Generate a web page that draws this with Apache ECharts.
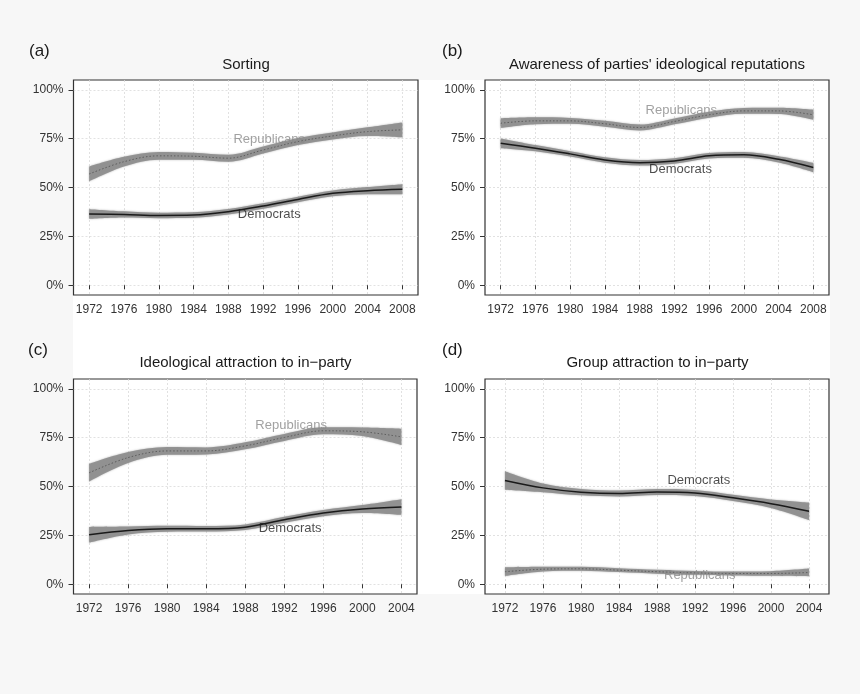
<!DOCTYPE html>
<html lang="en">
<head>
  <meta charset="UTF-8">
  <title>Party sorting and attraction</title>
  <script src="https://cdn.jsdelivr.net/npm/echarts@6/dist/echarts.min.js"></script>
  <style>
    body {
      margin: 0;
      padding: 0;
      background-color: #f7f7f7;
    }
    #chart {
      width: 860px;
      height: 694px;
    }
  </style>
</head>
<body>
  <div id="chart"></div>

  <script>
    // years on the x axis
    var yearsAB = [1972, 1976, 1980, 1984, 1988, 1992, 1996, 2000, 2004, 2008];
    var yearsCD = [1972, 1976, 1980, 1984, 1988, 1992, 1996, 2000, 2004];
    var yTicks = [0, 25, 50, 75, 100];

    // (a) Sorting: smoothed share (%) and half width of the band
    var aRepMid = [56.9, 63.2, 66.2, 66.0, 65.0, 69.2, 73.5, 76.4, 78.6, 79.5];
    var aRepSe  = [3.8, 2.5, 2.0, 1.8, 1.8, 1.8, 1.8, 1.8, 2.2, 3.8];
    var aDemMid = [36.4, 36.2, 35.7, 35.9, 37.6, 40.5, 43.9, 47.0, 48.4, 49.1];
    var aDemSe  = [2.5, 1.6, 1.4, 1.4, 1.4, 1.4, 1.4, 1.5, 1.8, 2.6];

    // (b) Awareness of parties' ideological reputations
    var bRepMid = [82.9, 84.1, 84.1, 82.6, 80.7, 83.8, 87.2, 89.2, 89.2, 87.2];
    var bRepSe  = [2.5, 1.8, 1.5, 1.5, 1.5, 1.5, 1.5, 1.5, 1.6, 2.6];
    var bDemMid = [72.6, 70.1, 67.2, 64.1, 62.7, 63.6, 66.2, 66.7, 64.4, 60.2];
    var bDemSe  = [2.5, 1.6, 1.4, 1.4, 1.4, 1.4, 1.4, 1.5, 1.6, 2.4];

    // (c) Ideological attraction to in-party
    var cRepMid = [57.0, 64.8, 68.2, 68.2, 70.8, 75.1, 78.5, 78.0, 75.4];
    var cRepSe  = [4.5, 2.8, 2.0, 1.8, 1.8, 1.8, 1.8, 2.2, 4.2];
    var cDemMid = [25.3, 27.5, 28.4, 28.4, 29.2, 33.0, 36.4, 38.5, 39.5];
    var cDemSe  = [4.0, 2.0, 1.5, 1.4, 1.4, 1.5, 1.6, 2.0, 4.0];

    // (d) Group attraction to in-party
    var dDemMid = [53.1, 49.3, 47.1, 46.4, 47.2, 46.7, 44.2, 41.2, 37.3];
    var dDemSe  = [4.7, 2.2, 1.6, 1.5, 1.5, 1.5, 1.6, 2.2, 4.5];
    var dRepMid = [6.4, 7.7, 7.9, 7.2, 6.4, 5.8, 5.5, 5.5, 6.0];
    var dRepSe  = [2.2, 1.2, 1.0, 1.0, 1.0, 1.0, 1.0, 1.2, 2.0];

    // where the party names sit, in data units [year, %]
    var aRepLabel = [1992.7, 74.4];
    var aDemLabel = [1992.7, 36.4];
    var bRepLabel = [1992.8, 89.4];
    var bDemLabel = [1992.7, 59.3];
    var cRepLabel = [1992.7, 81.1];
    var cDemLabel = [1992.6, 28.7];
    var dDemLabel = [1992.4, 53.1];
    var dRepLabel = [1992.5, 4.3];

    var FONT = '"Liberation Sans", Arial, Helvetica, sans-serif';
    var BAND = '#8e8e8e';
    var REP_TEXT = '#8a8a8a';
    var DEM_TEXT = '#1f1f1f';

    var panels = [
      { years: yearsAB, min: 1970.2, max: 2009.8,
        rep: aRepMid, repSe: aRepSe, dem: aDemMid, demSe: aDemSe,
        repLabel: aRepLabel, demLabel: aDemLabel },
      { years: yearsAB, min: 1970.2, max: 2009.8,
        rep: bRepMid, repSe: bRepSe, dem: bDemMid, demSe: bDemSe,
        repLabel: bRepLabel, demLabel: bDemLabel },
      { years: yearsCD, min: 1970.4, max: 2005.6,
        rep: cRepMid, repSe: cRepSe, dem: cDemMid, demSe: cDemSe,
        repLabel: cRepLabel, demLabel: cDemLabel },
      { years: yearsCD, min: 1969.9, max: 2006.1,
        rep: dRepMid, repSe: dRepSe, dem: dDemMid, demSe: dDemSe,
        repLabel: dRepLabel, demLabel: dDemLabel }
    ];

    var grids = [
      { left: 73.5, top: 80, width: 344.5, height: 215 },
      { left: 485, top: 80, width: 344, height: 215 },
      { left: 73.5, top: 379, width: 343.5, height: 215 },
      { left: 485, top: 379, width: 344, height: 215 }
    ];

    function pairs(xs, ys) {
      return xs.map(function (x, i) { return [x, ys[i]]; });
    }

    // value first, year second, so the stack goes on the y dimension
    function flipped(xs, ys) {
      return xs.map(function (x, i) { return [ys[i], x]; });
    }

    // band = invisible lower line + stacked width with area fill
    function bandSeries(idx, name, years, mid, se) {
      var lo = mid.map(function (v, i) { return v - se[i]; });
      var width = se.map(function (v) { return 2 * v; });
      var stackId = name + idx;
      var common = {
        type: 'line', xAxisIndex: idx, yAxisIndex: idx,
        stack: stackId, smooth: 0.35, symbol: 'none', silent: true,
        dimensions: ['v', 'year'],
        encode: { x: 'year', y: 'v' },
        lineStyle: { opacity: 0 }, z: 2
      };
      return [
        Object.assign({}, common, { data: flipped(years, lo) }),
        Object.assign({}, common, {
          data: flipped(years, width),
          areaStyle: { color: BAND, opacity: 0.92, shadowBlur: 2, shadowColor: 'rgba(130,130,130,0.7)' }
        })
      ];
    }

    var xAxes = [], yAxes = [], series = [];

    panels.forEach(function (p, i) {
      xAxes.push({
        type: 'value', gridIndex: i, min: p.min, max: p.max,
        axisLine: { show: false },
        axisTick: { show: true, length: 4, customValues: p.years,
                    lineStyle: { color: '#333', width: 1 } },
        axisLabel: { customValues: p.years, margin: 9, fontSize: 12,
                     color: '#333', fontFamily: FONT,
                     formatter: function (v) { return String(v); } },
        splitLine: { show: true, lineStyle: { color: '#dadada', type: [2, 2], width: 0.8 } }
      });
      yAxes.push({
        type: 'value', gridIndex: i, min: -5, max: 105,
        axisLine: { show: false },
        axisTick: { show: true, length: 5, customValues: yTicks,
                    lineStyle: { color: '#333', width: 1 } },
        axisLabel: { customValues: yTicks, margin: 10, fontSize: 12,
                     color: '#333', fontFamily: FONT,
                     formatter: function (v) { return v + '%'; } },
        splitLine: { show: true, lineStyle: { color: '#dadada', type: [2, 2], width: 0.8 } }
      });

      series = series.concat(bandSeries(i, 'rep', p.years, p.rep, p.repSe));
      series = series.concat(bandSeries(i, 'dem', p.years, p.dem, p.demSe));

      series.push({
        type: 'line', xAxisIndex: i, yAxisIndex: i,
        smooth: 0.35, symbol: 'none', silent: true,
        lineStyle: { color: '#5e5e5e', width: 1, type: [1.5, 2] },
        data: pairs(p.years, p.rep), z: 3
      });
      series.push({
        type: 'line', xAxisIndex: i, yAxisIndex: i,
        smooth: 0.35, symbol: 'none', silent: true,
        lineStyle: { color: '#1a1a1a', width: 1.5 },
        data: pairs(p.years, p.dem), z: 3
      });

      // party names
      series.push({
        type: 'scatter', xAxisIndex: i, yAxisIndex: i,
        symbolSize: 0, silent: true, z: 4,
        label: {
          show: true, position: 'inside', fontSize: 13, fontFamily: FONT,
          formatter: function (prm) { return prm.name; }
        },
        data: [
          { name: 'Republicans', value: p.repLabel, label: { color: REP_TEXT } },
          { name: 'Democrats', value: p.demLabel, label: { color: DEM_TEXT } }
        ]
      });
    });

    function txt(x, y, text, size, align) {
      return {
        type: 'text', x: x, y: y, silent: true, z: 10,
        style: { text: text, fontSize: size, fontFamily: FONT, fill: '#1a1a1a',
                 textAlign: align, textVerticalAlign: 'middle' }
      };
    }

    var chart = echarts.init(document.getElementById('chart'), null, { renderer: 'canvas' });

    chart.setOption({
      backgroundColor: 'transparent',
      animation: false,
      grid: grids.map(function (g) {
        return Object.assign({ show: true, borderColor: '#333', borderWidth: 1.2,
                               backgroundColor: '#fff' }, g);
      }),
      xAxis: xAxes,
      yAxis: yAxes,
      series: series,
      graphic: [
        { type: 'rect', z: -10, silent: true,
          shape: { x: 73, y: 80, width: 757, height: 514 },
          style: { fill: '#ffffff' } },
        txt(29, 51, '(a)', 17, 'left'),
        txt(246, 65, 'Sorting', 15, 'center'),
        txt(442, 51, '(b)', 17, 'left'),
        txt(657, 65, "Awareness of parties' ideological reputations", 15, 'center'),
        txt(28, 350, '(c)', 17, 'left'),
        txt(245.5, 363, 'Ideological attraction to in\u2212party', 15, 'center'),
        txt(442, 350, '(d)', 17, 'left'),
        txt(657.5, 363, 'Group attraction to in\u2212party', 15, 'center')
      ]
    });
  </script>
</body>
</html>
